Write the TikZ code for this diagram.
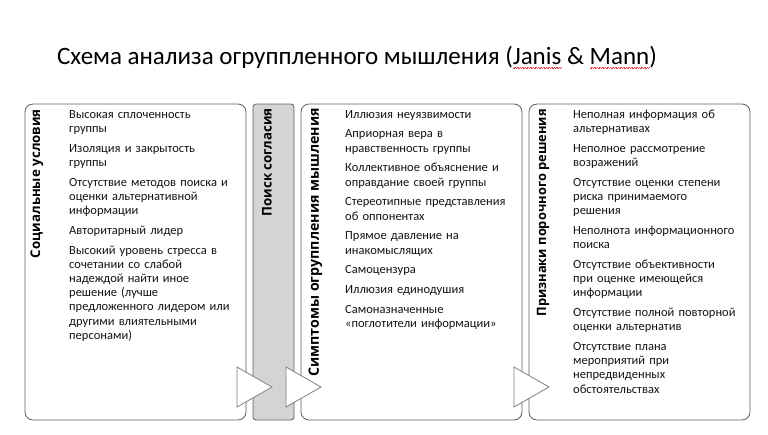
\documentclass[tikz,border=0pt]{standalone}
\usepackage{fontspec}
\setmainfont{Carlito}
\newfontfamily\labfont{Open Sans}
\definecolor{boxgray}{HTML}{5E5E5E}
\definecolor{trigray}{HTML}{7F7F7F}
\definecolor{accgray}{HTML}{D4D4D4}
\definecolor{textcol}{HTML}{141414}
\definecolor{squigred}{HTML}{E04040}
\newcommand\redsquig[1]{\setbox0\hbox{#1}\rlap{\raisebox{-4pt}{\color{squigred}\hbox to \wd0{\xleaders\hbox to 1.6pt{\rule[0pt]{0.8pt}{0.45pt}\rule[0.5pt]{0.8pt}{0.45pt}}\hfill}}}#1}
\begin{document}
\begin{tikzpicture}[x=1pt,y=-1pt,
  panel/.style={draw=boxgray, line width=0.8pt, rounded corners=8pt, fill=white, minimum width=221pt, minimum height=316pt, inner sep=0pt},
  accord/.style={draw=boxgray, line width=0.8pt, rounded corners=3pt, fill=accgray, minimum width=41pt, minimum height=316pt, inner sep=0pt},
  arrowtri/.style={draw=trigray, fill=white, line width=0.8pt, line join=miter},
  vlabel/.style={rotate=90, anchor=east, font=\labfont\bfseries\fontsize{13.3}{15}\selectfont, inner sep=0pt, text=black},
  items/.style={anchor=base west, align=left, text width=190pt, inner sep=0pt, font=\fontsize{12.5}{14.2}\selectfont, text=textcol},
  titlestyle/.style={font=\fontsize{25}{29}\selectfont, inner sep=0pt, text=black}
]
\useasboundingbox (0,0) rectangle (768,434);
\fill[white] (0,0) rectangle (768,434);

\node[titlestyle] (title) at (357,57) {Схема анализа огруппленного мышления (\redsquig{Janis} \& \redsquig{Mann})};

\node[panel] (b1) at (135.5,262) {};
\node[accord] (b2) at (273.5,262) {};
\node[panel] (b3) at (411.5,262) {};
\node[panel] (b4) at (639.5,262) {};

\draw[arrowtri] (237,367) -- (272,387) -- (237,407) -- cycle;
\draw[arrowtri] (286,367) -- (321,387) -- (286,407) -- cycle;
\draw[arrowtri] (514,367) -- (549,387) -- (514,407) -- cycle;

\node[vlabel] (l1) at (37,109) {Социальные условия};
\node[vlabel] (l2) at (267,108) {Поиск согласия};
\node[vlabel, font=\labfont\bfseries\fontsize{14.2}{16}\selectfont] (l3) at (315.5,108) {Симптомы огруппления мышления};
\node[vlabel, font=\labfont\bfseries\fontsize{12.9}{15}\selectfont] (l4) at (543,109) {Признаки порочного решения};

\node[items] (t1) at (69,118) {Высокая сплоченность\\группы\\[5.6pt]
Изоляция и закрытость\\группы\\[5.6pt]
Отсутствие методов поиска и\\оценки альтернативной\\информации\\[5.6pt]
Авторитарный лидер\\[5.6pt]
Высокий уровень стресса в\\сочетании со слабой\\надеждой найти иное\\решение (лучше\\предложенного лидером или\\другими влиятельными\\персонами)};

\node[items] (t3) at (345,118) {Иллюзия неуязвимости\\[5.6pt]
Априорная вера в\\нравственность группы\\[5.6pt]
Коллективное объяснение и\\оправдание своей группы\\[5.6pt]
Стереотипные представления\\об оппонентах\\[5.6pt]
Прямое давление на\\инакомыслящих\\[5.6pt]
Самоцензура\\[5.6pt]
Иллюзия единодушия\\[5.6pt]
Самоназначенные\\«поглотители информации»};

\node[items] (t4) at (573,118) {Неполная информация об\\альтернативах\\[5.6pt]
Неполное рассмотрение\\возражений\\[5.6pt]
Отсутствие оценки степени\\риска принимаемого\\решения\\[5.6pt]
Неполнота информационного\\поиска\\[5.6pt]
Отсутствие объективности\\при оценке имеющейся\\информации\\[5.6pt]
Отсутствие полной повторной\\оценки альтернатив\\[5.6pt]
Отсутствие плана\\мероприятий при\\непредвиденных\\обстоятельствах};
\end{tikzpicture}
\end{document}
